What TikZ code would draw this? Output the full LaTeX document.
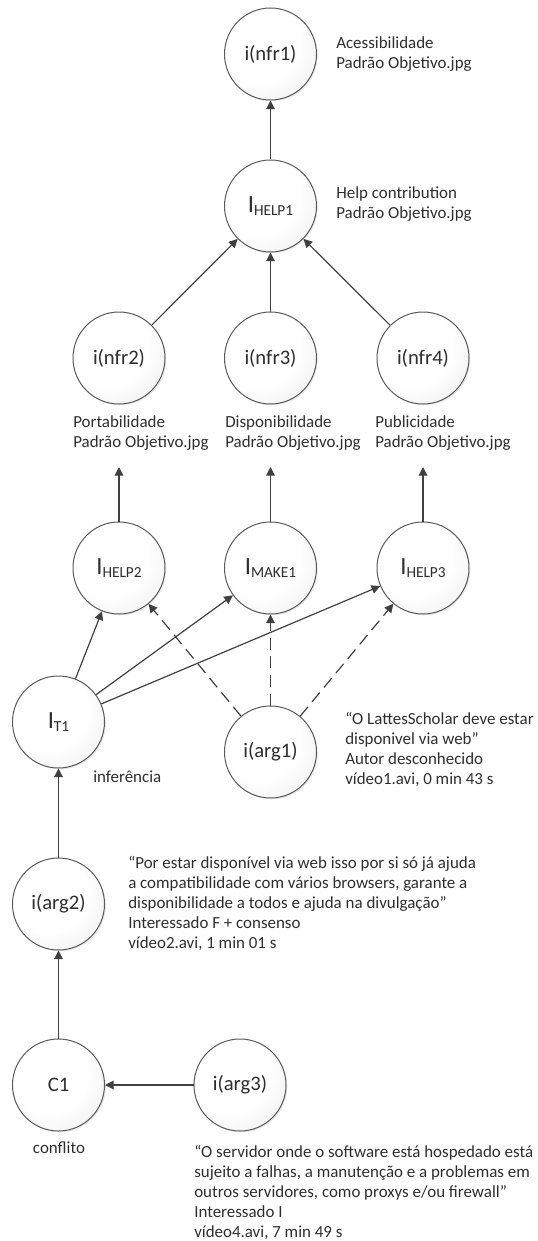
\documentclass[tikz,border=0pt]{standalone}
\usepackage{fontspec}
\setmainfont{Carlito}
\usetikzlibrary{arrows.meta,shadows}

\definecolor{edgecol}{HTML}{404040}
\definecolor{rimcol}{HTML}{5A5A5A}
\definecolor{fillrim}{HTML}{E0E0E0}
\definecolor{notecol}{HTML}{2E2E2E}
% soft light-grey ball fill for the circular nodes
\pgfdeclareradialshading{nodeshade}{\pgfpoint{-10bp}{10bp}}{%
  color(0bp)=(white); color(22bp)=(white); color(50bp)=(fillrim); color(60bp)=(fillrim)}

% big letter with a small index, e.g. I_HELP1
\newcommand\ilabel[2]{{\fontsize{18.5}{18.5}\selectfont #1}%
  \raisebox{-2.25pt}{\fontsize{11.5}{11.5}\selectfont #2}}

\tikzset{
  nd/.style={circle, draw=rimcol, line width=0.75pt, minimum size=69pt,
    inner sep=0pt, shade, shading=nodeshade,
    drop shadow={shadow xshift=1pt, shadow yshift=-1pt, opacity=0.18},
    font=\fontsize{15.5}{18}\selectfont, text=notecol},
  % multi-line notes are placed by the baseline of their last line
  note/.style={anchor=base west, align=left, inner sep=0pt,
    font=\fontsize{12.7}{15}\selectfont, text=notecol},
  edge/.style={draw=edgecol, line width=0.9pt,
    -{Triangle[length=6.5pt,width=6.5pt]}},
  dashedge/.style={edge, dash pattern=on 9pt off 5pt},
}

\begin{document}
\begin{tikzpicture}[x=0.75pt, y=-0.75pt]
\useasboundingbox (0,0) rectangle (537,1241);

% goal level
\node[nd] (nfr1) at (270.5,54)  {i(nfr1)};
\node[nd] (h1)   at (270.5,206) {\ilabel{I}{HELP1}};
\node[nd] (nfr2) at (119,358)   {i(nfr2)};
\node[nd] (nfr3) at (270.5,358) {i(nfr3)};
\node[nd] (nfr4) at (423,358)   {i(nfr4)};

\node[note] (lab1) at (336,69)  {Acessibilidade\\Padrão Objetivo.jpg};
\node[note] (labh) at (336,219) {Help contribution\\Padrão Objetivo.jpg};
\node[note] (lab2) at (73,447)  {Portabilidade\\Padrão Objetivo.jpg};
\node[note] (lab3) at (225,447) {Disponibilidade\\Padrão Objetivo.jpg};
\node[note] (lab4) at (375,447) {Publicidade\\Padrão Objetivo.jpg};

% contribution level
\node[nd] (h2)  at (119,568)   {\ilabel{I}{HELP2}};
\node[nd] (mk1) at (270.5,568) {\ilabel{I}{MAKE1}};
\node[nd] (h3)  at (423,568)   {\ilabel{I}{HELP3}};

\coordinate (up2) at (119,467);
\coordinate (up3) at (270.5,467);
\coordinate (up4) at (423,467);

% arguments
\node[nd] (t1)   at (58.5,722)  {\ilabel{I}{T1}};
\node[nd] (arg1) at (270.5,752) {i(arg1)};
\node[nd] (arg2) at (58.5,904)  {i(arg2)};
\node[nd] (c1)   at (58.5,1085) {C1};
\node[nd] (arg3) at (240,1085)  {i(arg3)};

\node[note] (linf) at (93,782) {inferência};
\node[note] (larg1) at (345,784) {“O LattesScholar deve estar\\disponivel via web"\\Autor desconhecido\\vídeo1.avi, 0 min 43 s};
\node[note] (larg2) at (128,948) {“Por estar disponível via web isso por si só já ajuda\\a compatibilidade com vários browsers, garante a\\disponibilidade a todos e ajuda na divulgação”\\Interessado F + consenso\\vídeo2.avi, 1 min 01 s};
\node[note, anchor=base] (lconf) at (59,1153) {conflito};
\node[note] (larg3) at (194,1237) {“O servidor onde o software está hospedado está\\sujeito a falhas, a manutenção e a problemas em\\outros servidores, como proxys e/ou firewall”\\Interessado I\\vídeo4.avi, 7 min 49 s};

% connectors
\draw[edge] (h1) -- (nfr1);
\draw[edge] (nfr2) -- (h1);
\draw[edge] (nfr3) -- (h1);
\draw[edge] (nfr4) -- (h1);

\draw[edge] (h2) -- (up2);
\draw[edge] (mk1) -- (up3);
\draw[edge] (h3) -- (up4);

\draw[edge] (t1) -- (h2);
\draw[edge] (t1) -- (mk1);
\draw[edge] (t1) -- (h3);

\draw[dashedge] (arg1) -- (h2);
\draw[dashedge] (arg1) -- (mk1);
\draw[dashedge] (arg1) -- (h3);

\draw[edge] (arg2) -- (t1);
\draw[edge] (c1) -- (arg2);
\draw[edge] (arg3) -- (c1);
\end{tikzpicture}
\end{document}
